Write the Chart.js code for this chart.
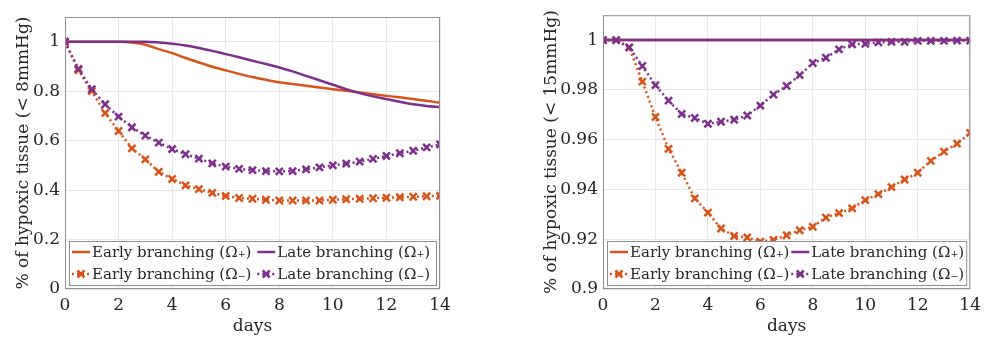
<!DOCTYPE html>
<html>
<head>
<meta charset="utf-8">
<script src="https://cdn.jsdelivr.net/npm/chart.js@4"></script>
<style>
  body { margin: 0; background: #fff; }
  .box { position: absolute; top: 0; height: 341px; }
</style>
</head>
<body>
<div class="box" style="left:0;width:480px"><canvas id="left" width="480" height="341"></canvas></div>
<div class="box" style="left:500px;width:487px"><canvas id="right" width="487" height="341"></canvas></div>
<script>
// days sampled every half day
var days = [0, 0.5, 1, 1.5, 2, 2.5, 3, 3.5, 4, 4.5, 5, 5.5, 6, 6.5, 7, 7.5, 8, 8.5, 9, 9.5, 10, 10.5, 11, 11.5, 12, 12.5, 13, 13.5, 14];
var seriesNames = ["Early branching (Ω₊)", "Late branching (Ω₊)", "Early branching (Ω₋)", "Late branching (Ω₋)"];
var xTicks = [0, 2, 4, 6, 8, 10, 12, 14];

// left panel, < 8mmHg
var earlyPlus8 = [1, 1, 1, 1, 1, 0.997, 0.988, 0.97, 0.954, 0.934, 0.916, 0.899, 0.884, 0.87, 0.857, 0.846, 0.836, 0.829, 0.822, 0.815, 0.808, 0.802, 0.795, 0.788, 0.781, 0.775, 0.768, 0.761, 0.753];
var latePlus8 = [1, 1, 1, 1, 1, 1, 1, 0.997, 0.992, 0.985, 0.975, 0.963, 0.95, 0.937, 0.923, 0.91, 0.896, 0.88, 0.862, 0.844, 0.826, 0.808, 0.792, 0.779, 0.768, 0.757, 0.747, 0.74, 0.735];
var earlyMinus8 = [1, 0.885, 0.8, 0.711, 0.639, 0.569, 0.524, 0.474, 0.445, 0.419, 0.404, 0.389, 0.376, 0.368, 0.365, 0.361, 0.358, 0.358, 0.358, 0.358, 0.361, 0.363, 0.365, 0.367, 0.369, 0.371, 0.373, 0.375, 0.377];
var lateMinus8 = [1, 0.89, 0.808, 0.747, 0.697, 0.654, 0.62, 0.592, 0.566, 0.545, 0.527, 0.508, 0.495, 0.486, 0.481, 0.477, 0.476, 0.477, 0.484, 0.492, 0.5, 0.507, 0.515, 0.526, 0.538, 0.549, 0.559, 0.573, 0.585];
var yTicks8 = [0, 0.2, 0.4, 0.6, 0.8, 1];

// right panel, < 15mmHg
var earlyPlus15 = [1, 1, 1, 1, 1, 1, 1, 1, 1, 1, 1, 1, 1, 1, 1, 1, 1, 1, 1, 1, 1, 1, 1, 1, 1, 1, 1, 1, 1];
var latePlus15 = [1, 1, 1, 1, 1, 1, 1, 1, 1, 1, 1, 1, 1, 1, 1, 1, 1, 1, 1, 1, 1, 1, 1, 1, 1, 1, 1, 1, 1];
var earlyMinus15 = [1, 1, 0.997, 0.9833, 0.9691, 0.9563, 0.9467, 0.9364, 0.9307, 0.9243, 0.9213, 0.9207, 0.919, 0.9197, 0.9216, 0.9236, 0.925, 0.9287, 0.9305, 0.9324, 0.9357, 0.9381, 0.9409, 0.944, 0.9467, 0.9515, 0.9552, 0.9584, 0.9627];
var lateMinus15 = [1, 1, 0.9971, 0.9896, 0.9819, 0.9757, 0.9703, 0.9687, 0.9664, 0.9672, 0.968, 0.9697, 0.9737, 0.9781, 0.9816, 0.9859, 0.9908, 0.9929, 0.9963, 0.9983, 0.9985, 0.9991, 0.9993, 0.9993, 0.9997, 0.9997, 0.9997, 0.9998, 0.9998];
var yTicks15 = [0.9, 0.92, 0.94, 0.96, 0.98, 1];

var orange = '#D95319';
var purple = '#7E2F8E';
var serif = "'DejaVu Serif', serif";
var textColor = '#262626';

function pts(arr) {
    return days.map(function (d, i) { return { x: d, y: arr[i] }; });
}

function makeSets(a, b, c, d) {
    var solid = { pointRadius: 0, borderWidth: 2.5, cubicInterpolationMode: 'monotone' };
    var dotted = { pointStyle: 'crossRot', pointRadius: 5, pointBorderWidth: 2.5, borderWidth: 2.5, borderDash: [2, 3], tension: 0 };
    return [
        Object.assign({ label: seriesNames[0], data: pts(a), borderColor: orange, order: 4 }, solid),
        Object.assign({ label: seriesNames[1], data: pts(b), borderColor: purple, order: 3 }, solid),
        Object.assign({ label: seriesNames[2], data: pts(c), borderColor: orange, pointBorderColor: orange, order: 2 }, dotted),
        Object.assign({ label: seriesNames[3], data: pts(d), borderColor: purple, pointBorderColor: purple, order: 1 }, dotted)
    ];
}

// box around plot + legend inside the axes
var framePlugin = {
    id: 'frame',
    afterDatasetsDraw: function (chart) {
        var ctx = chart.ctx, a = chart.chartArea;
        ctx.save();
        ctx.strokeStyle = '#8f8f8f';
        ctx.lineWidth = 1;
        ctx.strokeRect(a.left + 0.5, a.top + 0.5, a.width - 1, a.height - 1);

        var bw = a.width - 8, bh = 44;
        var bx = a.left + 4, by = a.bottom - 4 - bh;
        ctx.fillStyle = '#fff';
        ctx.fillRect(bx, by, bw, bh);
        ctx.strokeStyle = '#8f8f8f';
        ctx.strokeRect(bx + 0.5, by + 0.5, bw, bh);

        ctx.font = '15px ' + serif;
        ctx.textBaseline = 'middle';
        chart.data.datasets.forEach(function (ds, i) {
            var col = i % 2, row = Math.floor(i / 2);
            var sx = col === 0 ? bx + 3 : bx + bw * 0.513;
            var sy = by + (row === 0 ? 11 : 33);
            ctx.strokeStyle = ds.borderColor;
            ctx.lineWidth = 2.5;
            ctx.setLineDash(ds.borderDash || []);
            ctx.beginPath();
            ctx.moveTo(sx, sy);
            ctx.lineTo(sx + 18, sy);
            ctx.stroke();
            ctx.setLineDash([]);
            if (ds.pointStyle) {
                var m = 3.5;
                ctx.beginPath();
                ctx.moveTo(sx + 9 - m, sy - m); ctx.lineTo(sx + 9 + m, sy + m);
                ctx.moveTo(sx + 9 - m, sy + m); ctx.lineTo(sx + 9 + m, sy - m);
                ctx.stroke();
            }
            ctx.fillStyle = textColor;
            ctx.fillText(ds.label, sx + 20, sy + 1);
        });
        ctx.restore();
    }
};

function makeChart(id, sets, yMin, yMax, yTicks, yTitle, yWidth, pad) {
    return new Chart(document.getElementById(id), {
        type: 'line',
        data: { datasets: sets },
        options: {
            responsive: false,
            animation: false,
            layout: { padding: pad },
            plugins: { legend: { display: false }, tooltip: { enabled: false } },
            scales: {
                x: {
                    type: 'linear', min: 0, max: 14,
                    afterBuildTicks: function (s) { s.ticks = xTicks.map(function (v) { return { value: v }; }); },
                    afterFit: function (s) { s.height = 52; },
                    grid: { color: '#e8e8e8', drawTicks: false },
                    border: { display: false },
                    ticks: { color: textColor, font: { family: serif, size: 17 }, padding: 6, maxRotation: 0 },
                    title: { display: true, text: 'days', color: textColor, font: { family: serif, size: 17 }, padding: { top: 0 } }
                },
                y: {
                    min: yMin, max: yMax,
                    afterBuildTicks: function (s) { s.ticks = yTicks.map(function (v) { return { value: v }; }); },
                    afterFit: function (s) { s.width = yWidth; },
                    grid: { color: '#e8e8e8', drawTicks: false },
                    border: { display: false },
                    ticks: {
                        color: textColor, font: { family: serif, size: 17 }, padding: 5,
                        callback: function (v) { return String(+v.toFixed(2)); }
                    },
                    title: { display: true, text: yTitle, color: textColor, font: { family: serif, size: 17 }, padding: { bottom: 2 } }
                }
            }
        },
        plugins: [framePlugin]
    });
}

makeChart('left', makeSets(earlyPlus8, latePlus8, earlyMinus8, lateMinus8), 0, 1.1, yTicks8,
    '% of hypoxic tissue (< 8mmHg)', 56, { top: 17, right: 40, left: 9, bottom: 0 });
makeChart('right', makeSets(earlyPlus15, latePlus15, earlyMinus15, lateMinus15), 0.9, 1.01, yTicks15,
    '% of hypoxic tissue (< 15mmHg)', 66, { top: 15, right: 10, left: 37, bottom: 0 });
</script>
</body>
</html>
